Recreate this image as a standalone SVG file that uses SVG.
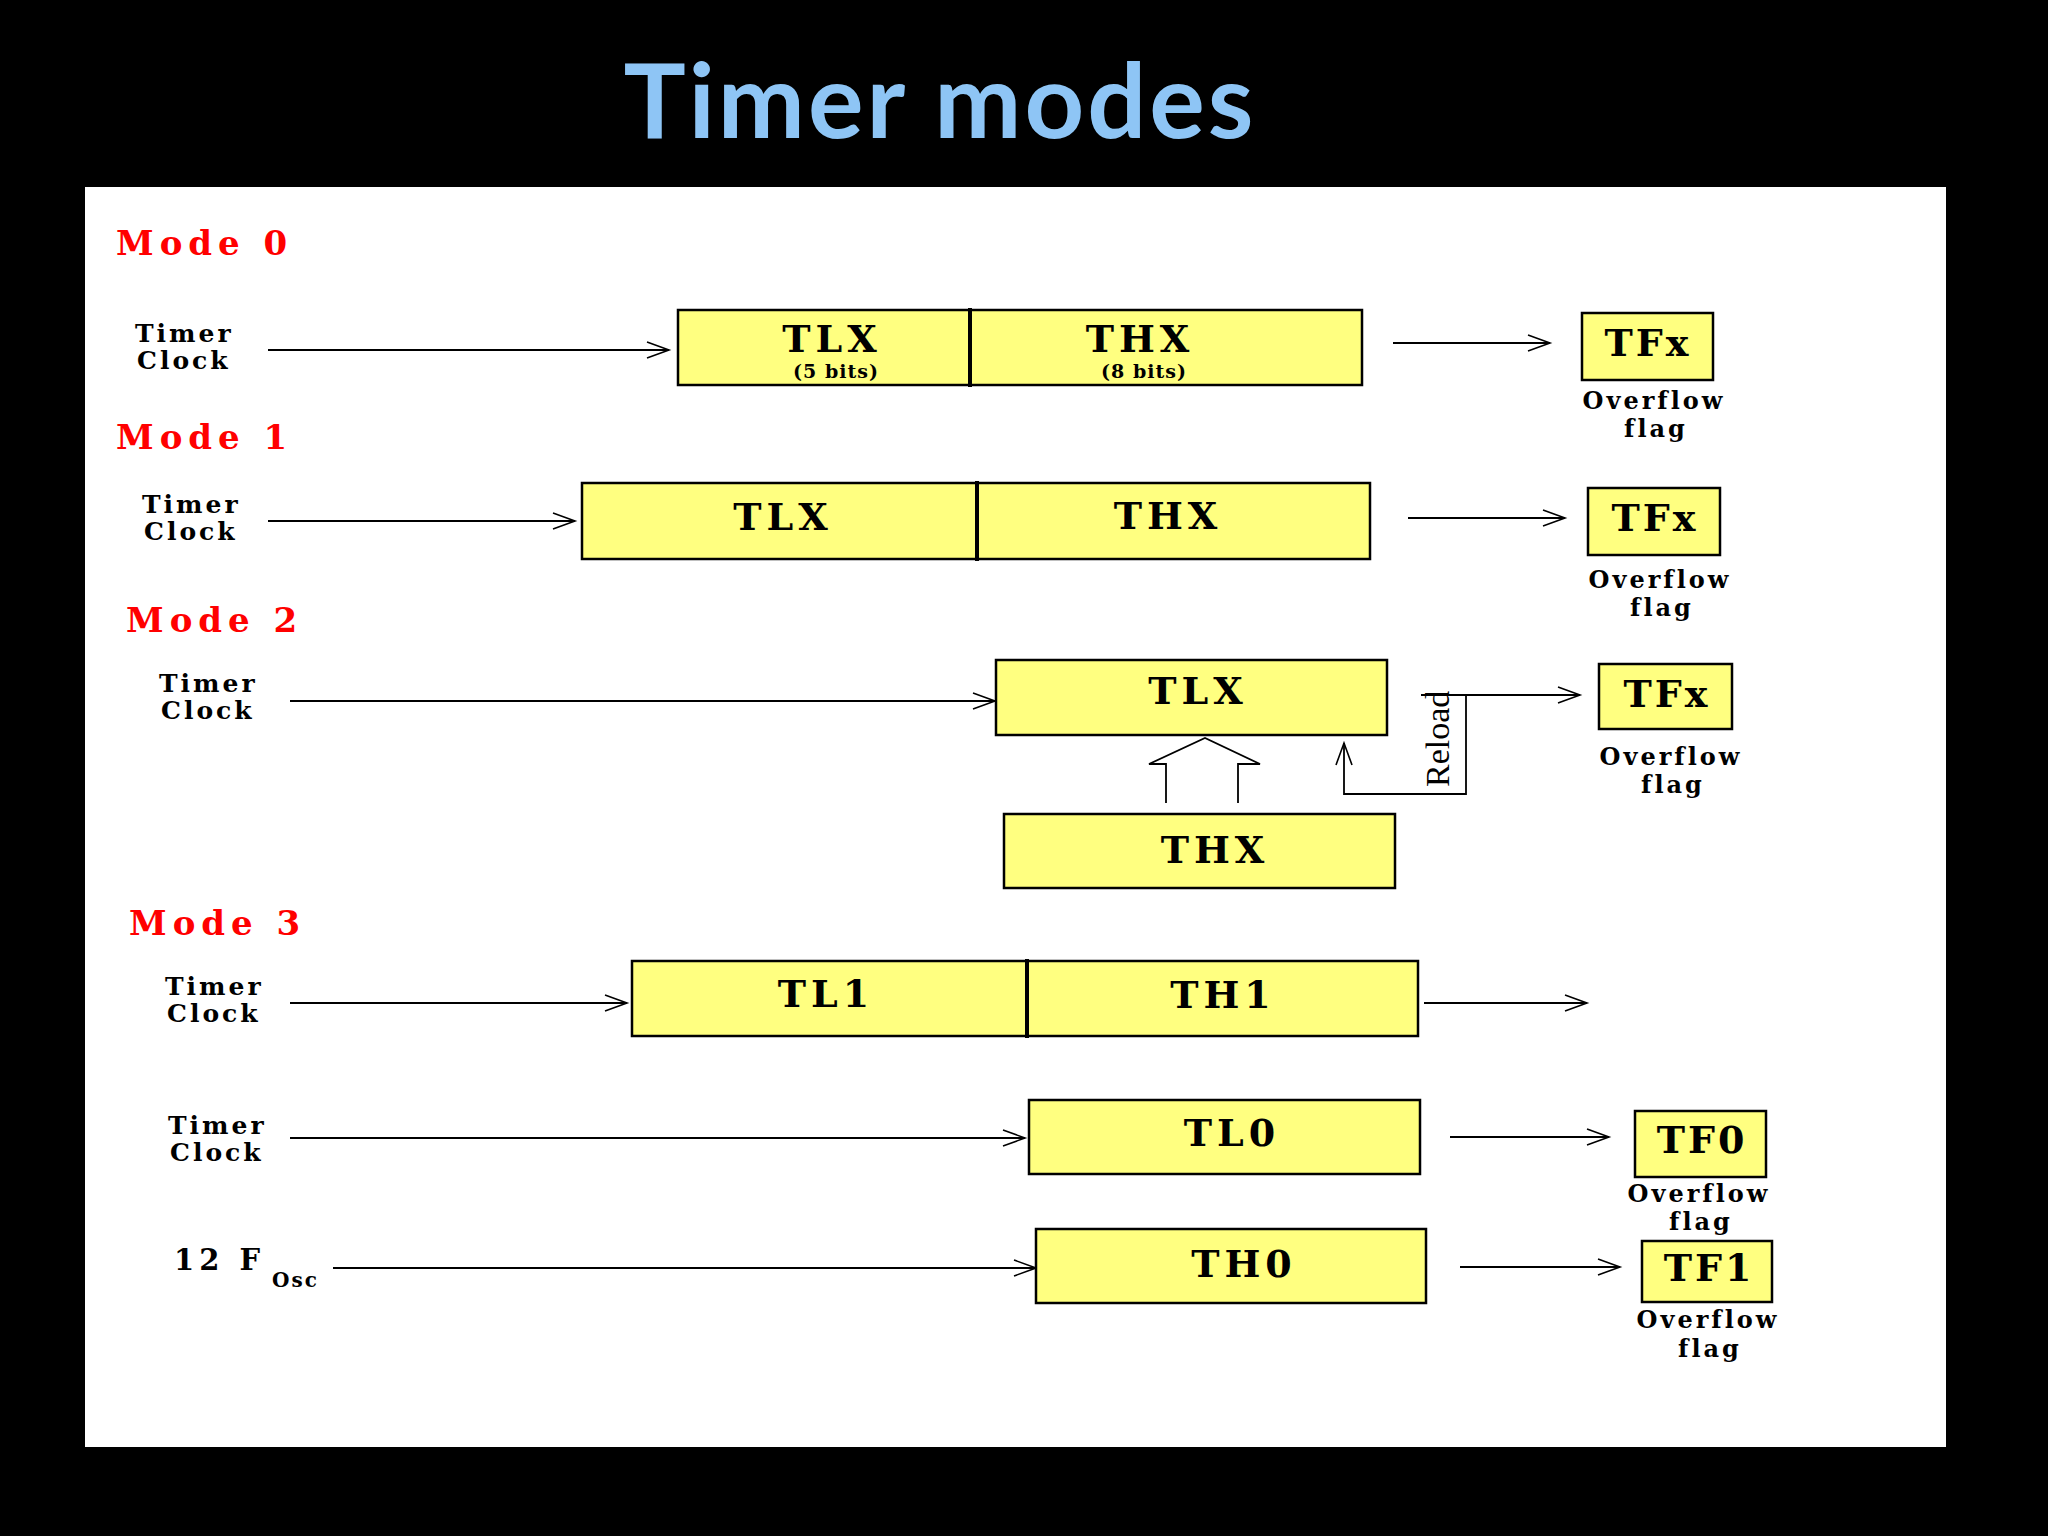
<svg xmlns="http://www.w3.org/2000/svg" width="2048" height="1536" viewBox="0 0 2048 1536">
<defs>
<marker id="a" markerWidth="30" markerHeight="20" refX="24" refY="10" orient="auto" markerUnits="userSpaceOnUse"><polyline points="2,2 24,10 2,18" fill="none" stroke="#000" stroke-width="1.6"/></marker>
</defs>
<style>
.b{fill:#ffff80;stroke:#000;stroke-width:2.5}
.bt{font-family:"DejaVu Serif",serif;font-weight:bold;font-size:38px;text-anchor:middle;letter-spacing:5px}
.s{font-family:"DejaVu Serif",serif;font-weight:bold;font-size:25px;letter-spacing:3px}
.m{font-family:"DejaVu Serif",serif;font-weight:bold;font-size:34px;fill:#f00;letter-spacing:6px}
.c{fill:none;stroke:#000;stroke-width:1.8}
.o{font-family:"DejaVu Serif",serif;font-weight:bold;font-size:24px;text-anchor:middle;letter-spacing:3px}
.sm{font-size:19px;letter-spacing:1px}
</style>
<rect width="2048" height="1536" fill="#000"/>
<rect x="85" y="187" width="1861" height="1260" fill="#fff"/>
<text x="940" y="138" font-family="Lato,sans-serif" font-weight="bold" font-size="104" fill="#8ec5f5" text-anchor="middle" letter-spacing="3">Timer modes</text>

<g id="labels">
<text class="m" x="116" y="255">Mode 0</text>
<text class="m" x="116" y="449">Mode 1</text>
<text class="m" x="126" y="632">Mode 2</text>
<text class="m" x="129" y="935">Mode 3</text>
<text class="s" x="135" y="342">Timer</text><text class="s" x="137" y="369">Clock</text>
<text class="s" x="142" y="513">Timer</text><text class="s" x="144" y="540">Clock</text>
<text class="s" x="159" y="692">Timer</text><text class="s" x="161" y="719">Clock</text>
<text class="s" x="165" y="995">Timer</text><text class="s" x="167" y="1022">Clock</text>
<text class="s" x="168" y="1134">Timer</text><text class="s" x="170" y="1161">Clock</text>
<text class="s" x="174" y="1270" style="font-size:29px;letter-spacing:5px">12 F</text><text class="s" x="272" y="1287" style="font-size:20px;letter-spacing:2px">Osc</text>
</g>

<g id="connectors">
<line class="c" x1="268" y1="350" x2="669" y2="350" marker-end="url(#a)"/>
<line class="c" x1="1393" y1="343" x2="1550" y2="343" marker-end="url(#a)"/>
<line class="c" x1="268" y1="521" x2="575" y2="521" marker-end="url(#a)"/>
<line class="c" x1="1408" y1="518" x2="1565" y2="518" marker-end="url(#a)"/>
<line class="c" x1="290" y1="701" x2="995" y2="701" marker-end="url(#a)"/>
<polyline class="c" points="1421,695 1580,695" marker-end="url(#a)"/>
<polyline class="c" points="1466,695 1466,794 1344,794 1344,743" marker-end="url(#a)"/>
<polyline class="c" stroke-width="2.5" points="1166,803 1166,764 1149,764 1205,738 1260,764 1238,764 1238,803"/>
<line class="c" x1="290" y1="1003" x2="627" y2="1003" marker-end="url(#a)"/>
<line class="c" x1="1424" y1="1003" x2="1587" y2="1003" marker-end="url(#a)"/>
<line class="c" x1="290" y1="1138" x2="1025" y2="1138" marker-end="url(#a)"/>
<line class="c" x1="1450" y1="1137" x2="1609" y2="1137" marker-end="url(#a)"/>
<line class="c" x1="333" y1="1268" x2="1036" y2="1268" marker-end="url(#a)"/>
<line class="c" x1="1460" y1="1267" x2="1620" y2="1267" marker-end="url(#a)"/>
</g>
<text x="0" y="0" font-family="Liberation Serif,serif" font-size="34" transform="translate(1449,787) rotate(-90)">Reload</text>

<g id="m0">
<rect class="b" x="678" y="310" width="292" height="75"/><rect class="b" x="970" y="310" width="392" height="75"/>
<line x1="970" y1="308" x2="970" y2="387" stroke="#000" stroke-width="4"/>
<text class="bt" x="832" y="352">TLX</text><text class="o sm" x="836" y="378">(5 bits)</text>
<text class="bt" x="1140" y="352">THX</text><text class="o sm" x="1144" y="378">(8 bits)</text>
<rect class="b" x="1582" y="313" width="131" height="67"/><text class="bt" x="1648" y="356" style="letter-spacing:3px">TFx</text>
<text class="o" x="1654" y="409">Overflow</text><text class="o" x="1656" y="437">flag</text>
</g>
<g id="m1">
<rect class="b" x="582" y="483" width="395" height="76"/><rect class="b" x="977" y="483" width="393" height="76"/>
<line x1="977" y1="481" x2="977" y2="561" stroke="#000" stroke-width="4"/>
<text class="bt" x="783" y="530">TLX</text><text class="bt" x="1168" y="529">THX</text>
<rect class="b" x="1588" y="488" width="132" height="67"/><text class="bt" x="1655" y="531" style="letter-spacing:3px">TFx</text>
<text class="o" x="1660" y="588">Overflow</text><text class="o" x="1662" y="616">flag</text>
</g>
<g id="m2">
<rect class="b" x="996" y="660" width="391" height="75"/><text class="bt" x="1198" y="704">TLX</text>
<rect class="b" x="1004" y="814" width="391" height="74"/><text class="bt" x="1215" y="863">THX</text>
<rect class="b" x="1599" y="664" width="133" height="65"/><text class="bt" x="1667" y="707" style="letter-spacing:3px">TFx</text>
<text class="o" x="1671" y="765">Overflow</text><text class="o" x="1673" y="793">flag</text>
</g>
<g id="m3">
<rect class="b" x="632" y="961" width="395" height="75"/><rect class="b" x="1027" y="961" width="391" height="75"/>
<line x1="1027" y1="959" x2="1027" y2="1038" stroke="#000" stroke-width="4"/>
<text class="bt" x="826" y="1007">TL1</text><text class="bt" x="1223" y="1008">TH1</text>
<rect class="b" x="1029" y="1100" width="391" height="74"/><text class="bt" x="1232" y="1146">TL0</text>
<rect class="b" x="1036" y="1229" width="390" height="74"/><text class="bt" x="1244" y="1277">TH0</text>
<rect class="b" x="1635" y="1111" width="131" height="66"/><text class="bt" x="1702" y="1153" style="letter-spacing:3px">TF0</text>
<text class="o" x="1699" y="1202">Overflow</text><text class="o" x="1701" y="1230">flag</text>
<rect class="b" x="1642" y="1241" width="130" height="61"/><text class="bt" x="1709" y="1281" style="letter-spacing:3px">TF1</text>
<text class="o" x="1708" y="1328">Overflow</text><text class="o" x="1710" y="1357">flag</text>
</g>
</svg>
